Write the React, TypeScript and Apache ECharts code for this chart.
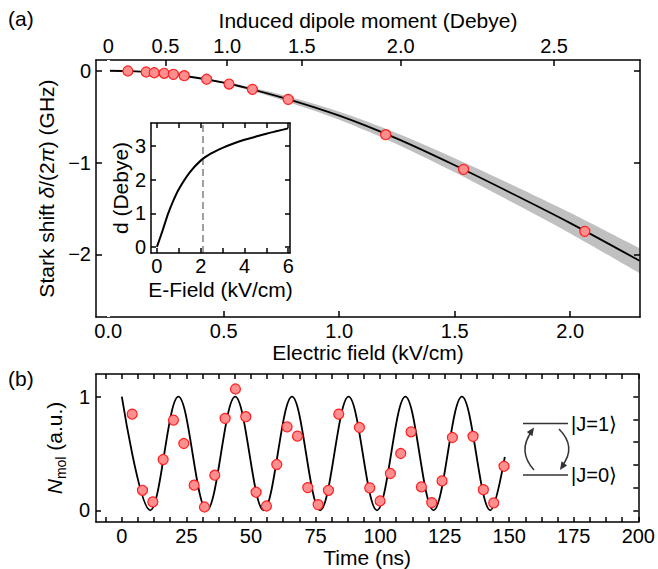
import React, { useEffect, useRef } from 'react';
import * as echarts from 'echarts';

const FONT = "'Liberation Sans', Arial, Helvetica, sans-serif";

// ---------- Panel (a): Stark shift ----------
const fieldPoints = [0.085, 0.164, 0.199, 0.242, 0.282, 0.329, 0.426, 0.523, 0.624, 0.779, 1.201, 1.538, 2.063];
const shiftPoints = [-0.003, -0.014, -0.022, -0.028, -0.039, -0.054, -0.093, -0.145, -0.203, -0.312, -0.697, -1.074, -1.75];

const fitField = [0, 0.1, 0.25, 0.5, 0.75, 1.0, 1.25, 1.5, 1.75, 2.0, 2.3];
const fitShift = [0, -0.005, -0.03, -0.13, -0.29, -0.49, -0.74, -1.03, -1.34, -1.66, -2.07];
const bandUpper = [0, -0.005, -0.028, -0.12, -0.262, -0.447, -0.68, -0.953, -1.245, -1.548, -1.934];
const bandLower = [0, -0.005, -0.032, -0.14, -0.318, -0.533, -0.8, -1.107, -1.435, -1.772, -2.206];

const fieldTicks = [0, 0.5, 1, 1.5, 2];
const shiftTicks = [-2, -1, 0];
const dipoleTickLabels = ['0', '0.5', '1.0', '1.5', '2.0', '2.5'];
const dipoleTickFields = [0, 0.248, 0.515, 0.838, 1.266, 1.93];

// ---------- Inset: induced dipole vs field ----------
const insetField = [0, 0.25, 0.5, 0.75, 1, 1.5, 2, 2.5, 3, 3.5, 4, 4.5, 5, 5.5, 6];
const insetDipole = [0, 0.47, 0.97, 1.38, 1.72, 2.22, 2.57, 2.79, 2.95, 3.08, 3.19, 3.28, 3.37, 3.45, 3.53];
const insetLabelTicks = [0, 2, 4, 6];
const insetFieldTicks = [0, 1, 2, 3, 4, 5, 6];
const insetDipoleTicks = [0, 1, 2, 3];
const insetMarkerField = 2.1;

// ---------- Panel (b): Rabi oscillation ----------
const timePoints = [4, 8, 12, 16, 20, 24, 28, 32, 36, 40, 44, 48, 52, 56, 60, 64, 68, 72, 76, 80, 84,
  92, 96, 100, 104, 108, 112, 116, 120, 124, 128, 136, 140, 144, 148];
const molSignal = [0.847, 0.176, 0.074, 0.447, 0.794, 0.588, 0.221, 0.029, 0.309, 0.809, 1.068, 0.824,
  0.159, 0.038, 0.403, 0.735, 0.653, 0.2, 0.05, 0.176, 0.847, 0.729, 0.197, 0.082, 0.324, 0.5, 0.691,
  0.206, 0.068, 0.259, 0.641, 0.65, 0.182, 0.065, 0.388];
// fit curve read at its turning points
const fitTime = [0, 11, 21.9, 32.9, 43.9, 54.9, 65.9, 76.8, 87.8, 98.8, 109.8, 120.7, 131.7, 142.7, 148.3];
const fitSignal = [1, 0, 1, 0, 1, 0, 1, 0, 1, 0, 1, 0, 1, 0, 0.47];

const timeTicks = [0, 25, 50, 75, 100, 125, 150, 175, 200];
const signalTicks = [0, 1];
const signalMinorTicks = [0, 0.2, 0.4, 0.6, 0.8, 1.0];

const zip = (a: number[], b: number[]) => a.map((v, i) => [v, b[i]]);

const timeMinorTicks: number[] = [];
{
  const step = (timeTicks[1] - timeTicks[0]) / 4;
  timeMinorTicks.push(timeTicks[0] - step);
  for (let i = 0; i < timeTicks.length; i++) {
    timeMinorTicks.push(timeTicks[i]);
    if (i < timeTicks.length - 1) for (let k = 1; k < 4; k++) timeMinorTicks.push(timeTicks[i] + k * step);
  }
}

const lineS = { color: '#000', width: 1.5 };
const labelS = { color: '#000', fontSize: 20, fontFamily: FONT };
const nameS = { color: '#000', fontSize: 21, fontFamily: FONT };

function axis(extra: any) {
  return {
    type: 'value',
    axisLine: { show: true, onZero: false, lineStyle: lineS },
    splitLine: { show: false },
    ...extra,
  };
}

const minus = (v: number) => (v < 0 ? '\u2212' + Math.abs(v) : String(v));

function buildOption(): any {
  return {
    animation: false,
    backgroundColor: '#fff',
    grid: [
      { left: 96, top: 60, width: 544, height: 257 },
      { left: 96, top: 374, width: 544, height: 148 },
      { left: 151, top: 123, width: 139, height: 130, show: true, backgroundColor: '#fff', borderWidth: 0, z: 5 },
    ],
    xAxis: [
      axis({
        gridIndex: 0, position: 'bottom', min: -0.053, max: 2.302, z: 4,
        axisTick: { inside: true, length: 6, lineStyle: lineS, customValues: fieldTicks },
        axisLabel: { ...labelS, margin: 4, customValues: fieldTicks, formatter: (v: number) => v.toFixed(1) },
        name: 'Electric field (kV/cm)', nameLocation: 'middle', nameGap: 25, nameTextStyle: nameS,
      }),
      axis({
        gridIndex: 0, position: 'top', min: -0.053, max: 2.302, z: 4,
        axisTick: { inside: true, length: 6, lineStyle: lineS, customValues: dipoleTickFields },
        axisLabel: {
          ...labelS, margin: 4, customValues: dipoleTickFields,
          formatter: (v: number) => {
            let best = 0;
            dipoleTickFields.forEach((f, i) => { if (Math.abs(f - v) < Math.abs(dipoleTickFields[best] - v)) best = i; });
            return dipoleTickLabels[best];
          },
        },
        name: 'Induced dipole moment (Debye)', nameLocation: 'middle', nameGap: 29, nameTextStyle: nameS,
      }),
      axis({
        gridIndex: 2, position: 'bottom', min: -0.27, max: 6.08, z: 6,
        axisTick: { inside: true, length: 5, lineStyle: lineS, customValues: insetFieldTicks },
        axisLabel: { ...labelS, margin: 3, customValues: insetLabelTicks },
        name: 'E-Field (kV/cm)', nameLocation: 'middle', nameGap: 26, nameTextStyle: nameS,
      }),
      axis({
        gridIndex: 1, position: 'bottom', min: -10, max: 200,
        axisTick: { inside: true, length: 5, lineStyle: lineS, customValues: timeMinorTicks },
        axisLabel: { ...labelS, margin: 4, customValues: timeTicks },
        name: 'Time (ns)', nameLocation: 'middle', nameGap: 24, nameTextStyle: nameS,
      }),
      axis({
        gridIndex: 1, position: 'top', min: -10, max: 200,
        axisTick: { inside: true, length: 5, lineStyle: lineS, customValues: timeMinorTicks },
        axisLabel: { show: false },
      }),
      axis({
        gridIndex: 2, position: 'top', min: -0.27, max: 6.08, z: 6,
        axisTick: { inside: true, length: 5, lineStyle: lineS, customValues: insetFieldTicks },
        axisLabel: { show: false },
      }),
    ],
    yAxis: [
      axis({
        gridIndex: 0, position: 'left', min: -2.683, max: 0.117, z: 4,
        axisTick: { inside: true, length: 6, lineStyle: lineS, customValues: shiftTicks },
        axisLabel: { ...labelS, margin: 5, customValues: shiftTicks, formatter: minus },
        name: '{n|Stark shift }{i|\u03b4}{n|/(2}{i|\u03c0}{n|) (GHz)}',
        nameLocation: 'middle', nameGap: 36,
        nameTextStyle: { ...nameS, rich: { n: { ...nameS }, i: { ...nameS, fontStyle: 'italic' } } },
      }),
      axis({
        gridIndex: 0, position: 'right', min: -2.683, max: 0.117, z: 4,
        axisTick: { inside: true, length: 6, lineStyle: lineS, customValues: shiftTicks },
        axisLabel: { show: false },
      }),
      axis({
        gridIndex: 2, position: 'left', min: -0.18, max: 3.69, z: 6,
        axisTick: { inside: true, length: 5, lineStyle: lineS, customValues: insetDipoleTicks },
        axisLabel: { ...labelS, margin: 5, customValues: insetDipoleTicks },
        name: 'd (Debye)', nameLocation: 'middle', nameGap: 20, nameTextStyle: nameS,
      }),
      axis({
        gridIndex: 2, position: 'right', min: -0.18, max: 3.69, z: 6,
        axisTick: { inside: true, length: 5, lineStyle: lineS, customValues: insetDipoleTicks },
        axisLabel: { show: false },
      }),
      axis({
        gridIndex: 1, position: 'left', min: -0.103, max: 1.2,
        axisTick: { inside: true, length: 5, lineStyle: lineS, customValues: signalTicks },
        axisLabel: { ...labelS, margin: 6, customValues: signalTicks },
        name: '{i|N}{s|mol}{n| (a.u.)}',
        nameLocation: 'middle', nameGap: 22,
        nameTextStyle: {
          ...nameS,
          rich: {
            n: { ...nameS, lineHeight: 26, verticalAlign: 'middle' },
            i: { ...nameS, fontStyle: 'italic', lineHeight: 26, verticalAlign: 'middle' },
            s: { ...nameS, fontSize: 14, lineHeight: 14, verticalAlign: 'bottom' },
          },
        },
      }),
      axis({
        gridIndex: 1, position: 'right', min: -0.103, max: 1.2,
        axisTick: { inside: true, length: 5, lineStyle: lineS, customValues: signalMinorTicks },
        axisLabel: { show: false },
      }),
    ],
    series: [
      // uncertainty band: grey fill below the upper edge, then white fill below the lower edge
      {
        type: 'line', xAxisIndex: 0, yAxisIndex: 0, data: zip(fitField, bandUpper),
        smooth: 0.3, showSymbol: false, symbol: 'none',
        lineStyle: { opacity: 0 }, areaStyle: { color: '#c0c0c0', opacity: 1, origin: 'start' }, silent: true, z: 0,
      },
      {
        type: 'line', xAxisIndex: 0, yAxisIndex: 0, data: zip(fitField, bandLower),
        smooth: 0.3, showSymbol: false, symbol: 'none',
        lineStyle: { opacity: 0 }, areaStyle: { color: '#ffffff', opacity: 1, origin: 'start' }, silent: true, z: 1,
        markLine: {
          silent: true, symbol: 'none', label: { show: false },
          lineStyle: { color: '#ffffff', type: 'solid', width: 3 },
          data: [{ xAxis: fitField[0] }],
        },
      },
      {
        type: 'line', xAxisIndex: 0, yAxisIndex: 0, data: zip(fitField, fitShift),
        smooth: 0.3, showSymbol: false, symbol: 'none', lineStyle: { color: '#000', width: 1.8 }, z: 2,
      },
      {
        type: 'scatter', xAxisIndex: 0, yAxisIndex: 0, data: zip(fieldPoints, shiftPoints),
        symbolSize: 10, itemStyle: { color: '#ff8f8f', borderColor: '#ff1f1f', borderWidth: 1.2, opacity: 1 }, z: 3,
      },
      {
        type: 'line', xAxisIndex: 2, yAxisIndex: 2, data: zip(insetField, insetDipole),
        smooth: 0.3, showSymbol: false, symbol: 'none', lineStyle: { color: '#000', width: 2 }, z: 7,
        markLine: {
          silent: true, symbol: 'none', label: { show: false },
          lineStyle: { color: '#a0a0a0', type: [7, 4], width: 2 },
          data: [{ xAxis: insetMarkerField }],
        },
      },
      {
        type: 'line', xAxisIndex: 3, yAxisIndex: 4, data: zip(fitTime, fitSignal),
        smooth: 0.364, smoothMonotone: 'x', showSymbol: false, symbol: 'none',
        lineStyle: { color: '#000', width: 1.8 }, z: 2,
      },
      {
        type: 'scatter', xAxisIndex: 3, yAxisIndex: 4, data: zip(timePoints, molSignal),
        symbolSize: 10, itemStyle: { color: '#ff8f8f', borderColor: '#ff1f1f', borderWidth: 1.2, opacity: 1 }, z: 3,
      },
    ],
    graphic: [
      { type: 'text', left: 8, top: 8, style: { text: '(a)', font: `21px ${FONT}`, fill: '#000' } },
      { type: 'text', left: 8, top: 368, style: { text: '(b)', font: `21px ${FONT}`, fill: '#000' } },
      { type: 'line', shape: { x1: 523, y1: 423.5, x2: 568, y2: 423.5 }, style: { stroke: '#333', lineWidth: 1.5 } },
      { type: 'line', shape: { x1: 523, y1: 475, x2: 568, y2: 475 }, style: { stroke: '#333', lineWidth: 1.5 } },
      { type: 'text', x: 571, y: 424, style: { text: '|J=1\u27e9', font: `20px ${FONT}`, fill: '#000', verticalAlign: 'middle' } },
      { type: 'text', x: 571, y: 475, style: { text: '|J=0\u27e9', font: `20px ${FONT}`, fill: '#000', verticalAlign: 'middle' } },
      { type: 'bezierCurve', shape: { x1: 534, y1: 470, x2: 532, y2: 431, cpx1: 517, cpy1: 451 }, style: { stroke: '#333', lineWidth: 1.5, fill: null } },
      { type: 'polygon', shape: { points: [[534, 427.5], [532.4, 436.3], [526.8, 432.1]] }, style: { fill: '#333' } },
      { type: 'bezierCurve', shape: { x1: 559, y1: 429, x2: 562, y2: 466, cpx1: 577, cpy1: 447 }, style: { stroke: '#333', lineWidth: 1.5, fill: null } },
      { type: 'polygon', shape: { points: [[560, 470], [567.1, 465.5], [561.5, 461.2]] }, style: { fill: '#333' } },
    ],
  };
}

export default function App() {
  const ref = useRef<HTMLDivElement>(null);
  useEffect(() => {
    document.body.style.margin = '0';
    const chart = echarts.init(ref.current!, null, { renderer: 'svg' });
    chart.setOption(buildOption());
    return () => chart.dispose();
  }, []);
  return <div ref={ref} style={{ width: 658, height: 569 }} />;
}
